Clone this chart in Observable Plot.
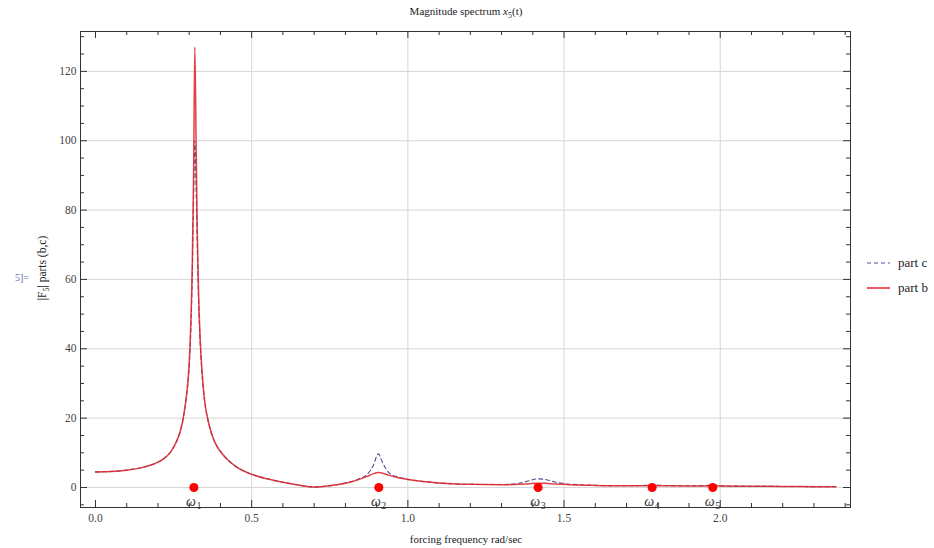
<!DOCTYPE html>
<html><head><meta charset="utf-8">
<script src="https://cdn.jsdelivr.net/npm/d3@7"></script>
<script src="https://cdn.jsdelivr.net/npm/@observablehq/plot@0.6"></script>
<style>body{margin:0;background:#fff}</style>
</head><body><div id="chart"></div>
<script>
// forcing frequency (rad/sec)
const freq  = [0.00,0.05,0.10,0.15,0.20,0.22,0.24,0.26,0.27,0.28,0.29,0.30,0.305,0.31,0.314,0.318,0.322,0.326,0.33,0.335,0.34,0.35,0.36,0.37,0.38,0.39,0.40,0.42,0.45,0.50,0.55,0.60,0.65,0.70,0.75,0.80,0.84,0.87,0.89,0.905,0.92,0.94,0.97,1.00,1.05,1.10,1.20,1.30,1.36,1.39,1.415,1.44,1.47,1.50,1.55,1.60,1.70,1.76,1.78,1.81,1.90,1.96,1.976,2.00,2.10,2.20,2.30,2.37];
// |F5| part b (solid red)
const partB = [4.5,4.6,5.0,5.8,7.3,8.4,10.2,13.4,15.8,19.6,25.5,36,47,65,90,127,100,73,56,43,35,24.5,19.5,16,13.5,11.7,10.4,8.3,6.0,3.8,2.5,1.5,0.7,0.15,0.5,1.2,2.2,3.2,4.0,4.3,4.1,3.5,2.8,2.3,1.7,1.3,0.9,0.8,0.9,1.1,1.2,1.2,1.0,0.9,0.7,0.6,0.5,0.5,0.5,0.5,0.45,0.45,0.45,0.4,0.35,0.3,0.25,0.2];
// |F5| part c (dashed blue)
const partC = [4.5,4.6,5.0,5.8,7.3,8.4,10.2,13.4,15.8,19.6,25.5,35,45,62,84,100,86,69,54,42,34,24.5,19.5,16,13.5,11.7,10.4,8.3,6.0,3.8,2.5,1.5,0.7,0.15,0.5,1.3,2.4,3.8,6.5,9.7,7.0,4.2,3.0,2.4,1.7,1.3,0.9,0.85,1.3,2.0,2.5,2.3,1.6,1.1,0.8,0.6,0.5,0.6,0.8,0.6,0.5,0.6,0.7,0.5,0.35,0.3,0.25,0.2];
// natural frequencies
const omegaFreq = [0.315,0.907,1.417,1.782,1.976];
const omegaMag  = [0,0,0,0,0];
const omegaSub  = ["1","2","3","4","5"];
// ticks
const xMajor = [0,0.5,1.0,1.5,2.0];
const xMinor = [0.1,0.2,0.3,0.4,0.6,0.7,0.8,0.9,1.1,1.2,1.3,1.4,1.6,1.7,1.8,1.9,2.1,2.2,2.3,2.4];
const yMajor = [0,20,40,60,80,100,120];
const yMinor = [-5,5,10,15,25,30,35,45,50,55,65,70,75,85,90,95,105,110,115,125,130];

const rows = freq.map((f,i)=>({f, b: partB[i], c: partC[i]}));
const omegas = omegaFreq.map((f,i)=>({f, m: omegaMag[i], s: omegaSub[i]}));

const W = 934, H = 548, mL = 80, mR = 84, mT = 31, mB = 41;
const iw = W - mL - mR, ih = H - mT - mB;
const serif = "Liberation Serif, DejaVu Serif, serif";
const tickC = "#333";

const svg = Plot.plot({
  width: W, height: H,
  marginLeft: mL, marginRight: mR, marginTop: mT, marginBottom: mB,
  style: {fontFamily: serif, background: "#fff"},
  x: {domain: [-0.048, 2.417], label: null},
  y: {domain: [-5.77, 131.5], label: null},
  marks: [
    Plot.ruleX(xMajor.filter(d => d > 0), {x: d => d, stroke: "#d6d6d6"}),
    Plot.ruleY(yMajor, {y: d => d, stroke: "#d6d6d6"}),
    // inward frame ticks
    Plot.ruleX(xMajor, {x: d => d, insetTop: ih - 7, stroke: tickC}),
    Plot.ruleX(xMinor, {x: d => d, insetTop: ih - 4, stroke: tickC}),
    Plot.ruleX(xMajor, {x: d => d, insetBottom: ih - 7, stroke: tickC}),
    Plot.ruleX(xMinor, {x: d => d, insetBottom: ih - 4, stroke: tickC}),
    Plot.ruleY(yMajor, {y: d => d, insetRight: iw - 7, stroke: tickC}),
    Plot.ruleY(yMinor, {y: d => d, insetRight: iw - 4, stroke: tickC}),
    Plot.ruleY(yMajor, {y: d => d, insetLeft: iw - 7, stroke: tickC}),
    Plot.ruleY(yMinor, {y: d => d, insetLeft: iw - 4, stroke: tickC}),
    Plot.axisX(xMajor, {tickSize: 0, tickPadding: 6, label: null, tickFormat: d => d.toFixed(1), fontSize: 11.5, fill: "#444", fontFamily: serif}),
    Plot.axisY(yMajor, {tickSize: 0, tickPadding: 4, label: null, fontSize: 11.5, fill: "#444", fontFamily: serif}),
    Plot.line(rows, {x: "f", y: "c", stroke: "#4d5396", strokeWidth: 1.1, strokeDasharray: "4,3", curve: "monotone-x"}),
    Plot.line(rows, {x: "f", y: "b", stroke: "#e0262b", strokeWidth: 1.5, strokeOpacity: 0.88, curve: "monotone-x"}),
    Plot.dot(omegas, {x: "f", y: "m", r: 4.5, fill: "#f00", stroke: "none"}),
    Plot.text(omegas, {x: "f", y: "m", text: () => "ω", dx: -3, dy: 14, fontSize: 14, fontStyle: "italic", fill: "#333", fontFamily: serif}),
    Plot.text(omegas, {x: "f", y: "m", text: "s", dx: 5, dy: 18, fontSize: 10, fill: "#333", fontFamily: serif}),
    Plot.frame({stroke: "#333"})
  ]
});

const s = d3.select(svg);
// title
const t = s.append("text").attr("x", 466).attr("y", 15).attr("text-anchor", "middle")
  .attr("font-family", serif).attr("font-size", 11).attr("fill", "#222");
t.append("tspan").text("Magnitude spectrum ");
t.append("tspan").attr("font-style", "italic").text("x");
t.append("tspan").attr("font-size", 8).attr("dy", 3).text("5");
t.append("tspan").attr("dy", -3).text("(t)");
// y label
const yl = s.append("text").attr("transform", "translate(46,268) rotate(-90)").attr("text-anchor", "middle")
  .attr("font-family", serif).attr("font-size", 11.5).attr("fill", "#222");
yl.append("tspan").text("|F");
yl.append("tspan").attr("font-size", 8).attr("dy", 3).text("5");
yl.append("tspan").attr("dy", -3).text("| parts (b,c)");
s.append("text").attr("x", 22).attr("y", 281).attr("text-anchor", "middle")
  .attr("font-family", serif).attr("font-size", 10).attr("fill", "#6b6fb0").text("5]=");
// x label
s.append("text").attr("x", 466).attr("y", 543).attr("text-anchor", "middle")
  .attr("font-family", serif).attr("font-size", 11).attr("fill", "#222").text("forcing frequency rad/sec");
// legend
const lg = s.append("g").attr("font-family", serif).attr("font-size", 13).attr("fill", "#222").attr("text-anchor", "start");
lg.append("line").attr("x1", 867).attr("x2", 890).attr("y1", 263).attr("y2", 263)
  .attr("stroke", "#4d5396").attr("stroke-width", 1.1).attr("stroke-dasharray", "4,3");
lg.append("text").attr("x", 898).attr("y", 267).attr("text-anchor", "start").text("part c");
lg.append("line").attr("x1", 867).attr("x2", 890).attr("y1", 288).attr("y2", 288)
  .attr("stroke", "#e0262b").attr("stroke-width", 1.5);
lg.append("text").attr("x", 898).attr("y", 292).attr("text-anchor", "start").text("part b");

document.getElementById("chart").appendChild(svg);
</script>
</body></html>
